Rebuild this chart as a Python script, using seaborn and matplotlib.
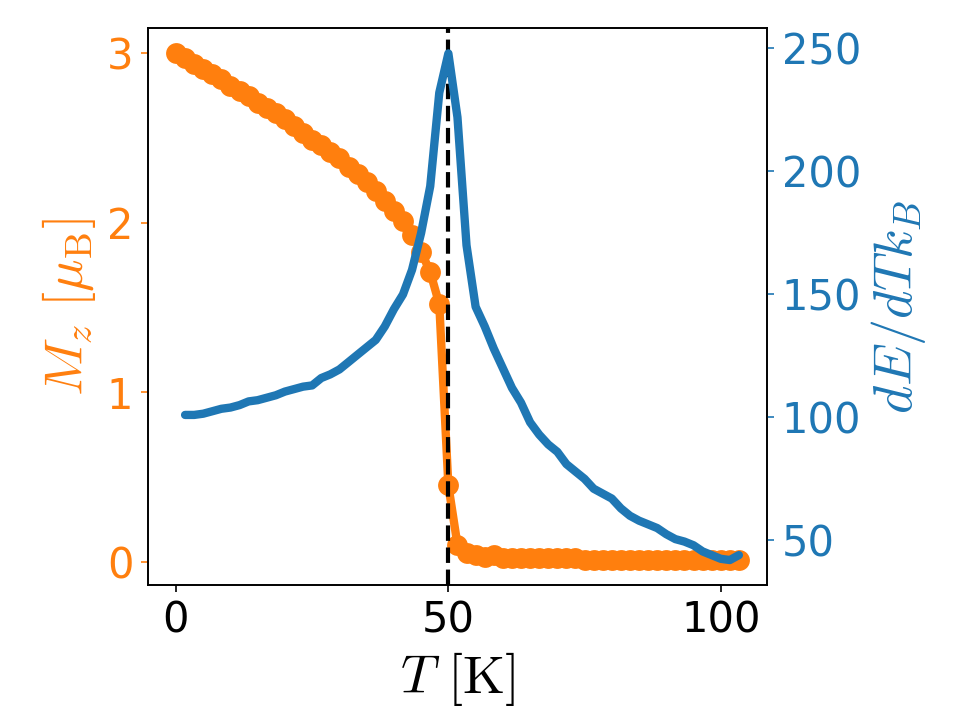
import numpy as np
import matplotlib
matplotlib.use("Agg")
import matplotlib.pyplot as plt
import seaborn as sns

# temperature grid (K), step 5/3 K
temperature = [0.0, 1.67, 3.33, 5.0, 6.67, 8.33, 10.0, 11.67, 13.33, 15.0,
               16.67, 18.33, 20.0, 21.67, 23.33, 25.0, 26.67, 28.33, 30.0, 31.67,
               33.33, 35.0, 36.67, 38.33, 40.0, 41.67, 43.33, 45.0, 46.67, 48.33,
               50.0, 51.67, 53.33, 55.0, 56.67, 58.33, 60.0, 61.67, 63.33, 65.0,
               66.67, 68.33, 70.0, 71.67, 73.33, 75.0, 76.67, 78.33, 80.0, 81.67,
               83.33, 85.0, 86.67, 88.33, 90.0, 91.67, 93.33, 95.0, 96.67, 98.33,
               100.0, 101.67, 103.33]

# magnetisation M_z (mu_B)
magnetization = [3.00, 2.97, 2.94, 2.91, 2.88, 2.85, 2.81, 2.78, 2.75, 2.71,
                 2.68, 2.65, 2.61, 2.57, 2.53, 2.49, 2.46, 2.42, 2.38, 2.33,
                 2.29, 2.24, 2.19, 2.13, 2.07, 2.01, 1.93, 1.83, 1.71, 1.52,
                 0.45, 0.10, 0.05, 0.04, 0.03, 0.04, 0.02, 0.02, 0.02, 0.02,
                 0.02, 0.02, 0.02, 0.02, 0.02, 0.01, 0.01, 0.01, 0.01, 0.01,
                 0.01, 0.01, 0.01, 0.01, 0.01, 0.01, 0.01, 0.01, 0.01, 0.01,
                 0.01, 0.01, 0.01]

# heat capacity dE/dT k_B, given on temperature[1:]
heat_capacity = [101.0, 101.0, 101.5, 102.5, 103.5, 104.0, 105.0, 106.5, 107.0, 108.0,
                 109.0, 110.5, 111.5, 112.5, 113.0, 116.0, 117.5, 119.5, 122.5, 125.5,
                 128.5, 131.5, 137.0, 144.0, 150.0, 160.0, 175.0, 194.0, 232.0, 248.0,
                 222.0, 170.0, 145.0, 137.0, 128.0, 120.0, 112.0, 106.0, 98.0, 93.0,
                 89.0, 86.0, 81.0, 78.0, 75.0, 71.0, 69.0, 67.0, 63.0, 60.0,
                 58.0, 56.5, 55.0, 52.5, 50.5, 49.5, 48.0, 45.5, 44.0, 42.5,
                 42.0, 44.0]

T_c = 50.0

sns.set_style("ticks", rc={
    "axes.edgecolor": "black",
    "text.color": "black",
    "axes.labelcolor": "black",
    "xtick.major.size": 3.5,
    "ytick.major.size": 3.5,
    "xtick.color": "black",
    "ytick.color": "black",
})
plt.rcParams["mathtext.fontset"] = "cm"
plt.rcParams["font.family"] = ["DejaVu Sans"]

orange = "#ff7f0e"
blue = "#1f77b4"

fig, ax1 = plt.subplots(figsize=(6.4, 4.8), dpi=150)
fig.subplots_adjust(left=0.154, right=0.799, top=0.961, bottom=0.187)

sns.lineplot(x=temperature, y=magnetization, ax=ax1, color=orange, linewidth=4,
             marker="o", markersize=10, markeredgecolor=orange, markeredgewidth=0)
ax1.axvline(T_c, color="black", linestyle="--", linewidth=2)

ax2 = ax1.twinx()
sns.lineplot(x=temperature[1:], y=heat_capacity, ax=ax2, color=blue, linewidth=4)

ax1.set_xlabel(r"$T\ [\mathrm{K}]$", fontsize=26, color="black")
ax1.set_ylabel(r"$M_z\ [\mu_\mathrm{B}]$", fontsize=26, color=orange)
ax2.set_ylabel(r"$dE/dTk_B$", fontsize=26, color=blue)

ax1.set_xticks([0, 50, 100])
ax1.set_yticks([0, 1, 2, 3])
ax2.set_yticks([50, 100, 150, 200, 250])
ax1.tick_params(axis="x", labelsize=20, colors="black")
ax1.tick_params(axis="y", labelsize=20, colors=orange)
ax2.tick_params(axis="y", labelsize=20, colors=blue)

for ax in (ax1, ax2):
    for side in ax.spines.values():
        side.set_visible(True)
        side.set_color("black")
        side.set_linewidth(0.8)

fig.savefig("out.png", dpi=150)
